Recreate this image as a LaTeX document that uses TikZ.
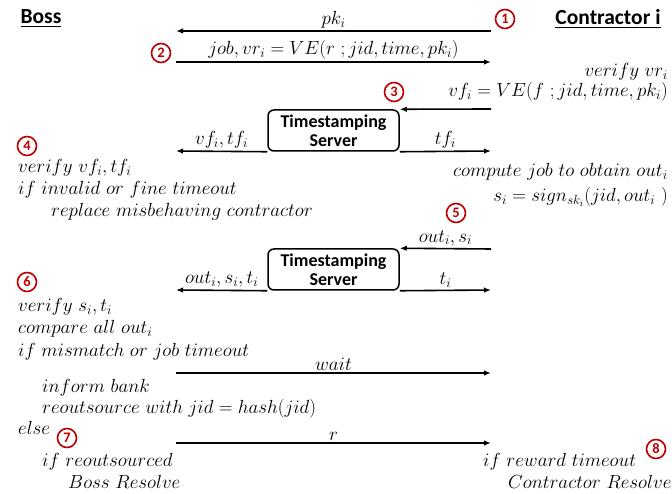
\RequirePackage{fix-cm}
\documentclass[tikz,border=0pt]{standalone}
\usepackage{amsmath}
\usepackage{amssymb}
\usepackage{xcolor}
\usepackage{fontspec}
\setsansfont{Carlito}
\usetikzlibrary{arrows.meta,shapes,calc,positioning}
\definecolor{stepred}{HTML}{C00000}

\begin{document}
\begin{tikzpicture}[x=1pt,y=-1pt]
    \tikzset{party/.style = {font=\sffamily\bfseries\fontsize{21.5}{24}\selectfont}}
    \tikzset{server/.style = {draw,line width=1.5pt,rounded corners=6pt,align=center,inner sep=0pt,minimum width=131pt,minimum height=41pt,font=\sffamily\bfseries\fontsize{18}{19}\selectfont}}
    \tikzset{msg/.style = {-{Latex[length=7pt,width=5.5pt]},line width=1.6pt}}
    \tikzset{lbl/.style = {font=\fontsize{19}{22}\selectfont,inner sep=2pt}}
    \tikzset{lefttext/.style = {lbl,anchor=base west,inner sep=0pt}}
    \tikzset{righttext/.style = {lbl,anchor=base east,inner sep=0pt}}
    \tikzset{stepnum/.style = {shape=circle,draw=stepred,line width=1.6pt,text=stepred,inner sep=0pt,minimum size=19pt,font=\sffamily\bfseries\fontsize{14.5}{14}\selectfont}}
    \useasboundingbox (0,0) rectangle (672,494);

    % parties
    \node[party] (boss) at (41,19) {\underline{Boss}};
    \node[party] (contr) at (608,19) {\underline{Contractor i}};

    % lifeline points
    \foreach \n/\y in {1/31,2/62,3/109,6/249,9/373,10/443}
    {
      \coordinate (B\n) at (176,\y);
      \coordinate (C\n) at (491,\y);
    }
    \coordinate (B4) at (176,151);
    \coordinate (C4) at (491,151);
    \coordinate (B7) at (176,290);
    \coordinate (C7) at (491,290);

    % servers
    \node[server] (ts1) at (333.5,130.5) {Timestamping\\Server};
    \node[server] (ts2) at (333.5,269.5) {Timestamping\\Server};

    % messages
    \draw[msg] (C1) -- node[lbl,above] {$pk_i$} (B1);
    \draw[msg] (B2) -- node[lbl,above] {$job, vr_i = VE(r\ ; jid, time, pk_i)$} (C2);
    \draw[msg] (C3) -- (ts1.north east);
    \draw[msg] (ts1.south west) -- node[lbl,above] {$vf_i, tf_i$} (B4);
    \draw[msg] (ts1.south east) -- node[lbl,above] {$tf_i$} (C4);
    \draw[msg] (C6) -- node[lbl,above] {$out_i, s_i$} (ts2.north east);
    \draw[msg] (ts2.south west) -- node[lbl,above] {$out_i, s_i, t_i$} (B7);
    \draw[msg] (ts2.south east) -- node[lbl,above] {$t_i$} (C7);
    \draw[msg] (B9) -- node[lbl,above] {$wait$} (C9);
    \draw[msg] (B10) -- node[lbl,above] {$r$} (C10);

    % contractor side
    \node[righttext] (vvr) at (668,77) {$verify\ vr_i$};
    \node[righttext] (vf) at (668,97) {$vf_i = VE(f\ ; jid, time, pk_i)$};
    \node[righttext] (comp) at (668,177) {$compute\ job\ to\ obtain\ out_i$};
    \node[righttext] (sign) at (668,202) {$s_i = sign_{sk_i}(jid, out_i\ )$};
    \node[lefttext] (rew) at (483,466) {$if\ reward\ timeout$};
    \node[lefttext] (cres) at (508,488) {$Contractor\ Resolve$};

    % boss side
    \node[lefttext] (vvf) at (18,173) {$verify\ vf_i, tf_i$};
    \node[lefttext] (inv) at (18,195) {$if\ invalid\ or\ fine\ timeout$};
    \node[lefttext] (repl) at (51,217) {$replace\ misbehaving\ contractor$};
    \node[lefttext] (vst) at (18,312) {$verify\ s_i, t_i$};
    \node[lefttext] (cmp) at (18,334) {$compare\ all\ out_i$};
    \node[lefttext] (mis) at (18,356) {$if\ mismatch\ or\ job\ timeout$};
    \node[lefttext] (bank) at (42,392) {$inform\ bank$};
    \node[lefttext] (reo) at (42,413) {$reoutsource\ with\ jid = hash(jid)$};
    \node[lefttext] (els) at (18,434) {$else$};
    \node[lefttext] (ifre) at (42,466) {$if\ reoutsourced$};
    \node[lefttext] (bres) at (68,488) {$Boss\ Resolve$};

    % steps
    \foreach \k/\x/\y in {1/505/19,2/161/53,3/394/92,4/27/146,5/456/213,6/27/282,7/67/438,8/656/449}
    {
      \node[stepnum] (s\k) at (\x,\y) {\k};
    }

  \end{tikzpicture}
\end{document}
